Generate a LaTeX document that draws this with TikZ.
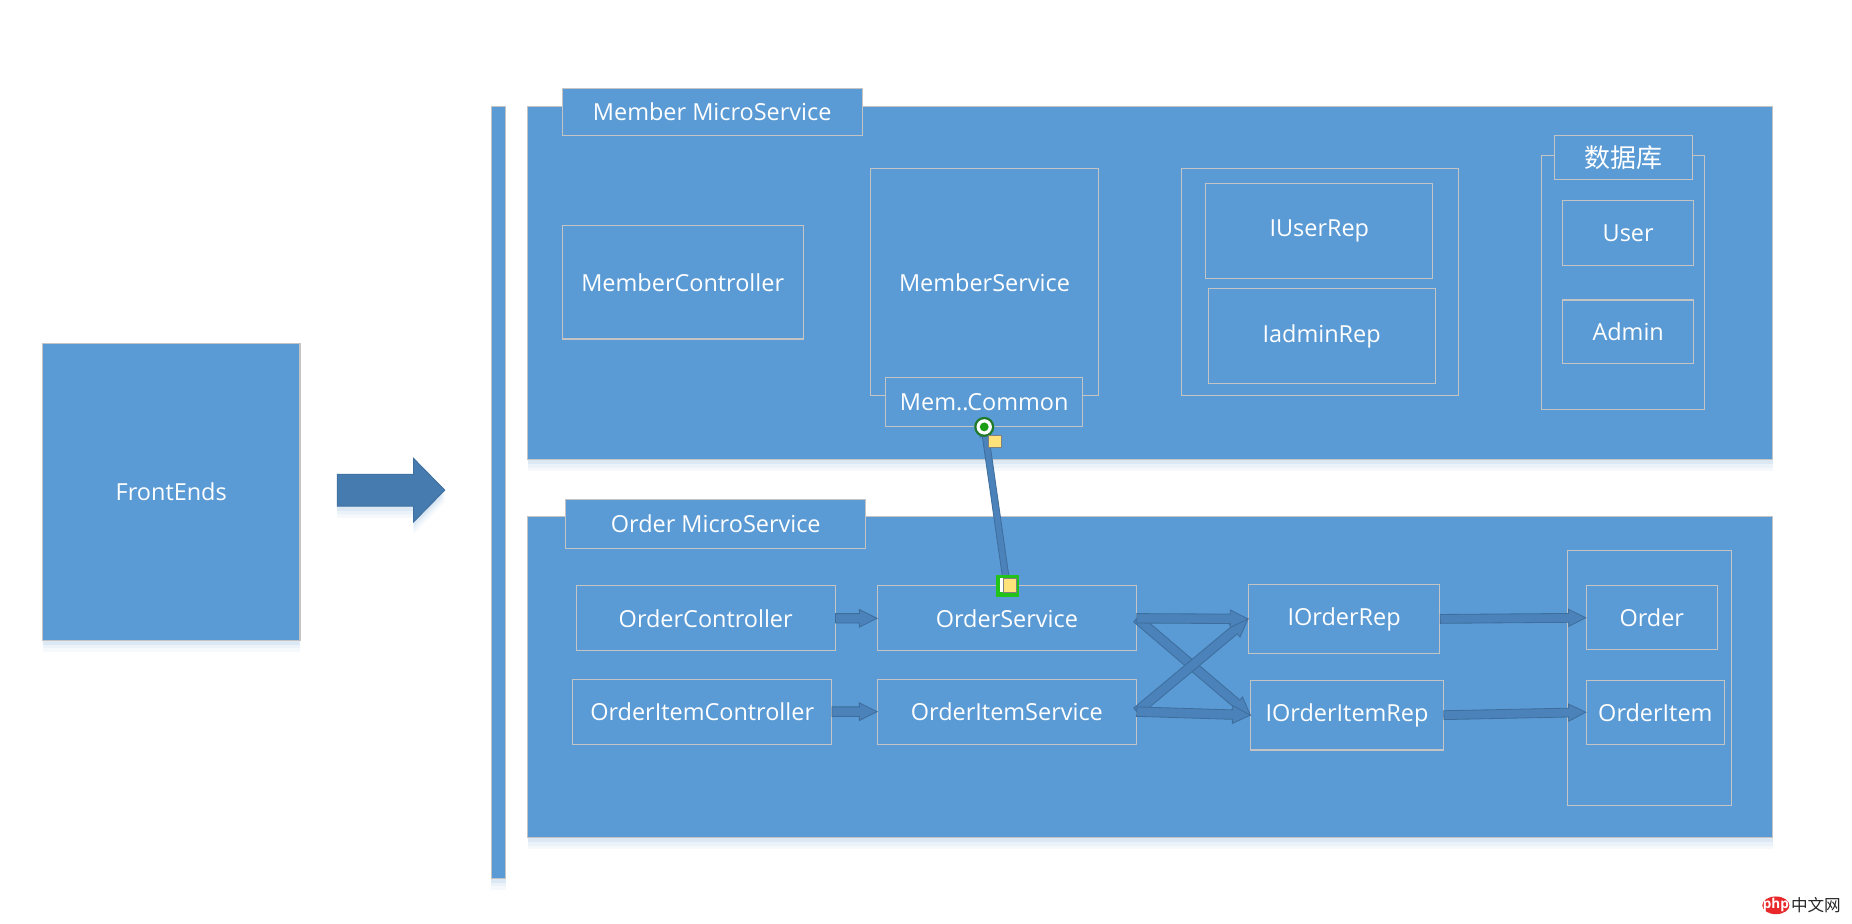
\documentclass[tikz,border=0pt]{standalone}
\usepackage{fontspec}
\setmainfont{Open Sans}
\newfontfamily\cjk{Noto Sans CJK SC}
\usetikzlibrary{calc,shadows}
\definecolor{msblue}{HTML}{5B9BD5}
\definecolor{msedge}{HTML}{C4C4C4}
\definecolor{arrfill}{HTML}{4A82B9}
\definecolor{arredge}{HTML}{3E6E9E}
\definecolor{selgreen}{HTML}{22C41A}
\definecolor{seldark}{HTML}{1F7A28}
\definecolor{selyellow}{HTML}{FFE37A}
\definecolor{phpred}{HTML}{E8282B}
\tikzset{
	sz/.style 2 args={minimum width=#1*0.2mm, minimum height=#2*0.2mm},
	part/.style={draw=msedge, line width=0.5pt, fill=msblue, text=white, inner sep=0pt, font=\fontsize{11.3}{13}\selectfont},
	lifted/.style={
		drop shadow={shadow xshift=0pt, shadow yshift=-2mm, opacity=0.05, fill=msblue},
		drop shadow={shadow xshift=0pt, shadow yshift=-1.4mm, opacity=0.07, fill=msblue},
		drop shadow={shadow xshift=0pt, shadow yshift=-0.8mm, opacity=0.1, fill=msblue}},
	blkarrow/.style={fill=arrfill, draw=arredge, line width=0.4pt, line join=miter}
}
\newcommand\blkarr[6][]{%
	\coordinate (ba) at (#2);
	\coordinate (bb) at (#3);
	\coordinate (bc) at ($(bb)!#6!(ba)$);
	\path[blkarrow, #1] ($(ba)!#4!90:(bb)$) -- ($(bc)!#4!90:(bb)$) -- ($(bc)!#5!90:(bb)$) -- (bb)
		-- ($(bc)!#5!-90:(bb)$) -- ($(bc)!#4!-90:(bb)$) -- ($(ba)!#4!-90:(bb)$) -- cycle;}
\begin{document}
\begin{tikzpicture}[x=0.2mm, y=-0.2mm]
	\fill[white] (0,0) rectangle (1568,782.3);
	\useasboundingbox (0,0) rectangle (1568,782.3);
	\node[part, lifted, sz={218}{251}] (fe) at (145,416.5) {FrontEnds};
	\node[part, lifted, sz={12.5}{653.5}] (bar) at (422,416.8) {};
	\coordinate (fa) at (285.5,415);
	\coordinate (fb) at (376.6,415);
	\blkarr[lifted, fill=arrfill!95!black]{fa}{fb}{2.7mm}{5.4mm}{5.3mm}
	% member service
	\node[part, lifted, sz={1053.7}{299}] (mpanel) at (973.85,239.5) {};
	\node[part, sz={254}{40}] (mlabel) at (603,95) {Member MicroService};
	\node[part, sz={204}{96}] (mctrl) at (578,239) {MemberController};
	\node[part, sz={193}{192}] (msvc) at (833.5,239) {MemberService};
	\node[part, sz={166.6}{41}] (common) at (833.3,340.5) {Mem..Common};
	\node[part, sz={235}{192}] (repbox) at (1117.5,239) {};
	\node[part, sz={192}{81}] (iuser) at (1117,195.5) {IUserRep};
	\node[part, sz={192}{81}] (iadmin) at (1119,284.5) {IadminRep};
	\node[part, sz={138}{215.4}] (dbbox) at (1374,239.3) {};
	\node[part, sz={117}{37}, font=\cjk\fontsize{12.5}{14}\selectfont] (dblabel) at (1374.5,133.5) {数据库};
	\node[part, sz={111}{55}] (user) at (1378.5,197.5) {User};
	\node[part, sz={111}{54}] (admin) at (1378.5,281) {Admin};
	% order service
	\node[part, lifted, sz={1053.7}{272}] (opanel) at (973.85,573) {};
	\node[part, sz={254}{41}] (olabel) at (606,443.5) {Order MicroService};
	\node[part, sz={219}{55}] (octrl) at (597.5,523.5) {OrderController};
	\node[part, sz={219}{55}] (oictrl) at (594.5,602.5) {OrderItemController};
	\node[part, sz={219}{55}] (osvc) at (852.5,523.5) {OrderService};
	\node[part, sz={219}{55}] (oisvc) at (852.5,602.5) {OrderItemService};
	\node[part, sz={162}{58}] (orep) at (1138,524) {IOrderRep};
	\node[part, sz={163}{59}] (oirep) at (1140.5,605.5) {IOrderItemRep};
	\node[part, sz={139}{215.7}] (tblbox) at (1396.5,574) {};
	\node[part, sz={111}{54}] (torder) at (1398.5,523) {Order};
	\node[part, sz={117}{54}] (titem) at (1401.5,603) {OrderItem};
	\blkarr{octrl.east}{osvc.west}{0.8mm}{1.5mm}{3mm}
	\blkarr{oictrl.east}{oisvc.west}{0.8mm}{1.5mm}{3mm}
	\blkarr{osvc.east}{oirep.west}{0.8mm}{1.5mm}{3mm}
	\blkarr{oisvc.east}{orep.west}{0.8mm}{1.5mm}{3mm}
	\blkarr{osvc.east}{orep.west}{0.8mm}{1.5mm}{3mm}
	\blkarr{oisvc.east}{oirep.west}{0.8mm}{1.5mm}{3mm}
	\blkarr{orep.east}{torder.west}{0.75mm}{1.45mm}{2.9mm}
	\blkarr{oirep.east}{titem.west}{0.75mm}{1.45mm}{2.9mm}
	\blkarr{osvc.north}{common.south}{0.55mm}{0.95mm}{1.6mm}
	% selection handles
	\fill[seldark] (common.south) circle [radius=1.7mm];
	\fill[white] (common.south) circle [radius=1.3mm];
	\fill[selgreen!80!black] (common.south) circle [radius=0.75mm];
	\draw[fill=selyellow, draw=gray, line width=0.5pt] ($(common.south)+(3.7,7)$) rectangle ($(common.south)+(14.7,17.5)$);
	\fill[selgreen] ($(osvc.north)+(-9,-9)$) rectangle ($(osvc.north)+(10.5,9.7)$);
	\fill[white] ($(osvc.north)+(-6,-6)$) rectangle ($(osvc.north)+(-3,6)$);
	\draw[fill=selyellow, draw=gray, line width=0.5pt] ($(osvc.north)+(-3,-6)$) rectangle ($(osvc.north)+(8.5,6)$);
	% watermark
	\fill[phpred] (1503.5,766.5) ellipse [x radius=11.5, y radius=7.5];
	\node[text=white, font=\bfseries\fontsize{6.5}{7}\selectfont, inner sep=0pt] (phplogo) at (1503.5,766.5) {php};
	\node[text=black!85, font=\cjk\fontsize{8}{9}\selectfont, inner sep=0pt, anchor=west] (phpcn) at (1516,766) {中文网};
\end{tikzpicture}
\end{document}
